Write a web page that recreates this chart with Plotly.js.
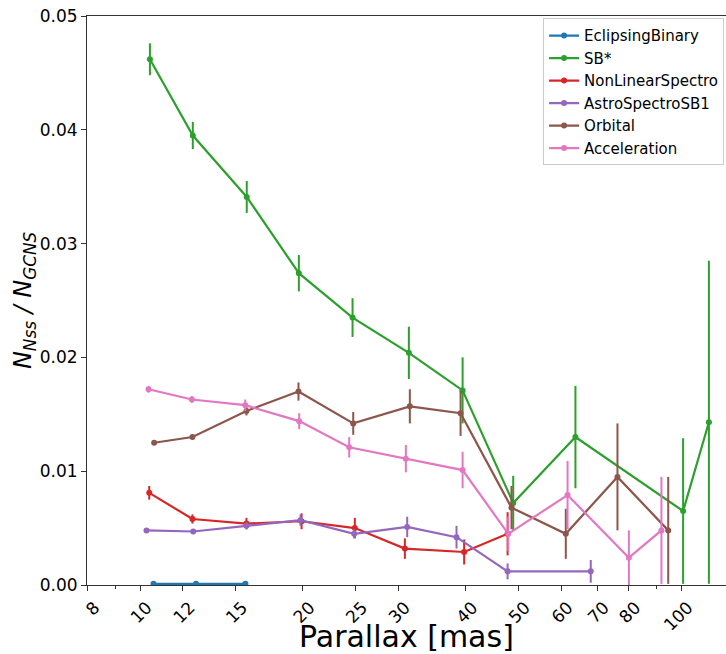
<!DOCTYPE html>
<html>
<head>
<meta charset="utf-8">
<script src="https://cdn.plot.ly/plotly-3.0.1.min.js"></script>
<style>html,body{margin:0;padding:0;background:#fff;}#chart{width:726px;height:654px;}</style>
</head>
<body>
<div id="chart"></div>
<script>
const seriesNames = ["EclipsingBinary", "SB*", "NonLinearSpectro", "AstroSpectroSB1", "Orbital", "Acceleration"];
const seriesColors = ["#1f77b4", "#2ca02c", "#d62728", "#9467bd", "#8c564b", "#e377c2"];

const ebX = [10.59, 12.69, 15.66];
const ebY = [0.0001, 0.0001, 0.0001];
const ebErr = [0.00005, 0.00005, 0.00005];

const sbX = [10.43, 12.52, 15.75, 19.66, 24.71, 31.4, 39.47, 48.96, 63.8, 100.9, 112.6];
const sbY = [0.0462, 0.0395, 0.0341, 0.0274, 0.0235, 0.0204, 0.0171, 0.0072, 0.0130, 0.0065, 0.0143];
const sbErr = [0.0014, 0.0012, 0.0014, 0.0016, 0.0017, 0.0023, 0.0029, 0.0024, 0.0045, 0.0064, 0.0142];

const nlX = [10.4, 12.5, 15.73, 19.89, 24.95, 30.87, 39.73, 47.8];
const nlY = [0.0081, 0.0058, 0.0054, 0.0056, 0.0050, 0.0032, 0.0029, 0.0045];
const nlErr = [0.0006, 0.0004, 0.0005, 0.0007, 0.0009, 0.0009, 0.0011, 0.0019];

const asX = [10.28, 12.54, 15.73, 19.8, 24.88, 31.18, 38.46, 47.8, 68.1];
const asY = [0.0048, 0.0047, 0.0052, 0.0057, 0.0045, 0.0051, 0.0042, 0.0012, 0.0012];
const asErr = [0.0001, 0.0001, 0.0003, 0.0005, 0.0004, 0.0009, 0.0010, 0.0007, 0.0010];

const orbX = [10.62, 12.5, 15.73, 19.63, 24.78, 31.53, 39.13, 48.6, 61.24, 76.3, 94.7];
const orbY = [0.0125, 0.0130, 0.0153, 0.0170, 0.0142, 0.0157, 0.0151, 0.0068, 0.0045, 0.0095, 0.0048];
const orbErr = [0.0002, 0.0002, 0.0004, 0.0008, 0.0010, 0.0015, 0.0020, 0.0019, 0.0022, 0.0047, 0.0047];

const accX = [10.37, 12.47, 15.65, 19.69, 24.36, 31.0, 39.47, 47.93, 61.7, 80.1, 92.0];
const accY = [0.0172, 0.0163, 0.0158, 0.0144, 0.0121, 0.0111, 0.0101, 0.0045, 0.0079, 0.0024, 0.0048];
const accErr = [0.0003, 0.0003, 0.0005, 0.0007, 0.0009, 0.0012, 0.0016, 0.0015, 0.0030, 0.0024, 0.0047];

const xTickVals = [8, 10, 12, 15, 20, 25, 30, 40, 50, 60, 70, 80, 100];
const xTickText = ["8", "10", "12", "15", "20", "25", "30", "40", "50", "60", "70", "80", "100"];
const xMinorVals = [9, 90];
const yTickVals = [0, 0.01, 0.02, 0.03, 0.04, 0.05];
const xTitle = "Parallax [mas]";

const allX = [ebX, sbX, nlX, asX, orbX, accX];
const allY = [ebY, sbY, nlY, asY, orbY, accY];
const allErr = [ebErr, sbErr, nlErr, asErr, orbErr, accErr];

const traces = seriesNames.map((name, i) => ({
  type: "scatter",
  mode: "lines+markers",
  name: name,
  x: allX[i],
  y: allY[i],
  error_y: {type: "data", array: allErr[i], visible: true, color: seriesColors[i], thickness: 2, width: 0},
  line: {color: seriesColors[i], width: 2.2},
  marker: {color: seriesColors[i], size: 6},
  cliponaxis: true
}));

const layout = {
  width: 726,
  height: 654,
  paper_bgcolor: "#ffffff",
  plot_bgcolor: "#ffffff",
  margin: {l: 87, r: 0, t: 16, b: 69},
  font: {family: "DejaVu Sans, sans-serif", color: "#000"},
  showlegend: true,
  legend: {
    x: 0.997, xanchor: "right", y: 0.996, yanchor: "top",
    bgcolor: "rgba(255,255,255,0.85)", bordercolor: "#cccccc", borderwidth: 1,
    font: {size: 15, family: "DejaVu Sans, sans-serif"},
    tracegroupgap: 0, itemwidth: 30
  },
  xaxis: {
    type: "log",
    range: [Math.log10(7.98), Math.log10(121.1)],
    tickmode: "array",
    tickvals: xTickVals,
    ticktext: xTickText,
    tickangle: -45,
    ticklabelshift: 7,
    ticks: "outside",
    ticklen: 5,
    tickwidth: 1,
    tickcolor: "#333",
    tickfont: {size: 17},
    showgrid: false,
    zeroline: false,
    showline: true,
    linecolor: "#333",
    linewidth: 1,
    mirror: true,
    minor: {tickmode: "array", tickvals: xMinorVals, ticks: "outside", ticklen: 3, tickcolor: "#333", showgrid: false},
    automargin: false,
    title: {text: ""}
  },
  yaxis: {
    range: [0, 0.05],
    tickmode: "array",
    tickvals: yTickVals,
    tickformat: ".2f",
    ticks: "outside",
    ticklen: 5,
    tickwidth: 1,
    tickcolor: "#333",
    tickfont: {size: 17},
    showgrid: false,
    zeroline: false,
    showline: true,
    linecolor: "#333",
    linewidth: 1,
    mirror: false,
    automargin: false,
    title: {text: "<i>N</i><sub><i>Nss</i></sub><i> / N</i><sub><i>GCNS</i></sub>", font: {size: 24}, standoff: 1}
  },
  annotations: [{
    text: xTitle, xref: "paper", yref: "paper", x: 0.5, y: -0.091,
    xanchor: "center", yanchor: "middle", showarrow: false,
    font: {size: 30, family: "DejaVu Sans, sans-serif", color: "#000"}
  }]
};

Plotly.newPlot("chart", traces, layout, {displayModeBar: false, staticPlot: true});
</script>
</body>
</html>
